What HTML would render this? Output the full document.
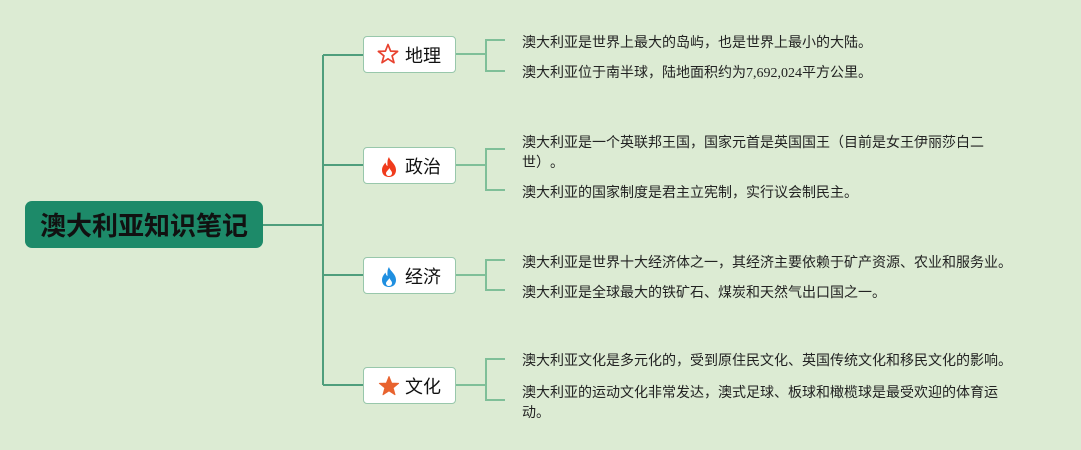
<!DOCTYPE html>
<html><head><meta charset="utf-8">
<style>
html,body{margin:0;padding:0;}
body{width:1081px;height:450px;background:#dcebd3;position:relative;overflow:hidden;font-family:"Liberation Sans","Noto Sans CJK SC",sans-serif;}
svg.lines{position:absolute;left:0;top:0;}
.root{position:absolute;left:25px;top:201px;width:238px;height:47px;background:#1d8a69;border-radius:7px;color:#111;font-weight:bold;font-size:26px;line-height:47px;text-align:center;letter-spacing:0px;font-family:"Noto Sans CJK SC",sans-serif;}
.box{position:absolute;left:363px;width:91px;height:35px;background:#fff;border:1.5px solid #98c7ab;border-radius:4px;box-sizing:content-box;}
.box .ic{position:absolute;left:14px;top:7px;width:22px;height:22px;}
.box .t{position:absolute;left:41px;top:0;line-height:37px;font-size:18px;color:#111;font-family:"Noto Sans CJK SC",sans-serif;}
.txt{position:absolute;left:522px;font-size:14px;line-height:20px;color:#222;white-space:nowrap;font-family:"Liberation Serif","Noto Sans CJK SC",serif;text-spacing-trim:space-all;}
</style></head><body>
<svg class="lines" width="1081" height="450">
<g fill="none" stroke="#4f9e7c" stroke-width="2">
<path d="M263 225 H323"/>
<path d="M323 55 V385"/>
<path d="M323 55 H363 M323 165 H363 M323 275 H363 M323 385 H363"/>
</g>
<g fill="none" stroke="#7fbf98" stroke-width="2">
<path d="M456 54 H486 M505 40 H486 V71 H505"/>
<path d="M456 165 H486 M505 149 H486 V190 H505"/>
<path d="M456 275 H486 M505 260 H486 V290 H505"/>
<path d="M456 385 H486 M505 359 H486 V400 H505"/>
</g>
</svg>

<div class="root">澳大利亚知识笔记</div>

<div class="box" style="top:36px">
<svg class="ic" viewBox="0 0 22 22" style="top:6px;left:13px"><path d="M11 1.5 L13.6 8.1 L20.6 8.4 L15.1 12.8 L17 19.7 L11 15.8 L5 19.7 L6.9 12.8 L1.4 8.4 L8.4 8.1 Z" fill="none" stroke="#e8412e" stroke-width="1.7" stroke-linejoin="round"/></svg>
<div class="t">地理</div></div>

<div class="box" style="top:147px">
<svg class="ic" viewBox="0 0 22 22" style="top:8px;left:15px"><path d="M10 1 C11 5 17 8 17 14 C17 18.5 14 21 10 21 C6 21 3 18.5 3 14 C3 10.5 5 8.5 6.5 6.5 C7 9 8 10 8.5 10 C8.5 7 8 4 10 1Z M10 20 C12 20 13 18.6 13 17 C13 15 11 14 10.5 12 C9.5 14 7 15.5 7 17.2 C7 18.8 8.3 20 10 20Z" fill="#f03b1c" fill-rule="evenodd"/></svg>
<div class="t">政治</div></div>

<div class="box" style="top:257px">
<svg class="ic" viewBox="0 0 22 22" style="top:8px;left:15px"><path d="M10 1 C11 5 17 8 17 14 C17 18.5 14 21 10 21 C6 21 3 18.5 3 14 C3 10.5 5 8.5 6.5 6.5 C7 9 8 10 8.5 10 C8.5 7 8 4 10 1Z M10 20 C12 20 13 18.6 13 17 C13 15 11 14 10.5 12 C9.5 14 7 15.5 7 17.2 C7 18.8 8.3 20 10 20Z" fill="#1f8fe0" fill-rule="evenodd"/></svg>
<div class="t">经济</div></div>

<div class="box" style="top:367px">
<svg class="ic" viewBox="0 0 22 22" style="top:7px;left:14px"><path d="M11 1.5 L13.6 8.1 L20.6 8.4 L15.1 12.8 L17 19.7 L11 15.8 L5 19.7 L6.9 12.8 L1.4 8.4 L8.4 8.1 Z" fill="#e8632f" stroke="#e8632f" stroke-width="1" stroke-linejoin="round"/></svg>
<div class="t">文化</div></div>

<div class="txt" style="top:34px">澳大利亚是世界上最大的岛屿，也是世界上最小的大陆。</div>
<div class="txt" style="top:64px">澳大利亚位于南半球，陆地面积约为7,692,024平方公里。</div>

<div class="txt" style="top:134px">澳大利亚是一个英联邦王国，国家元首是英国国王（目前是女王伊丽莎白二<br>世）。</div>
<div class="txt" style="top:184px">澳大利亚的国家制度是君主立宪制，实行议会制民主。</div>

<div class="txt" style="top:254px">澳大利亚是世界十大经济体之一，其经济主要依赖于矿产资源、农业和服务业。</div>
<div class="txt" style="top:284px">澳大利亚是全球最大的铁矿石、煤炭和天然气出口国之一。</div>

<div class="txt" style="top:352px">澳大利亚文化是多元化的，受到原住民文化、英国传统文化和移民文化的影响。</div>
<div class="txt" style="top:384px">澳大利亚的运动文化非常发达，澳式足球、板球和橄榄球是最受欢迎的体育运<br>动。</div>
</body></html>
